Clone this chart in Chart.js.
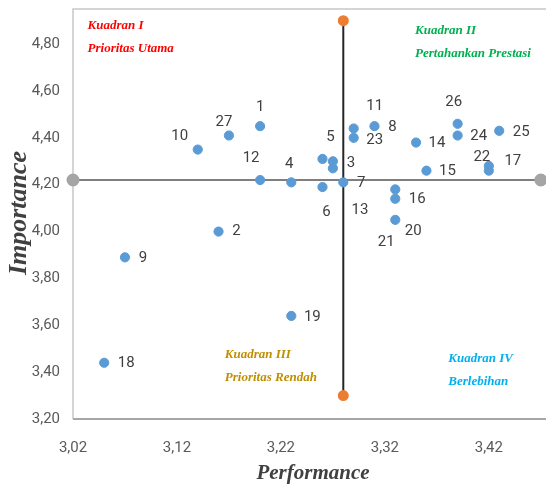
<!DOCTYPE html>
<html>
<head>
<meta charset="utf-8">
<script src="https://cdn.jsdelivr.net/npm/chart.js@4.4.1/dist/chart.umd.min.js"></script>
<style>
  html, body { margin: 0; padding: 0; background: #fff; }
  #wrap { width: 546px; height: 487px; position: relative; }
</style>
</head>
<body>
<div id="wrap"><canvas id="ipaChart"></canvas></div>
<script>
// ---- data (item no., performance = x, importance = y)
const itemNumbers = [1, 2, 3, 4, 5, 6, 7, 8, 9, 10, 11, 12, 13, 14, 15, 16, 17, 18, 19, 20, 21, 22, 23, 24, 25, 26, 27];
const performance = [3.20, 3.16, 3.27, 3.23, 3.26, 3.26, 3.28, 3.31, 3.07, 3.14, 3.29, 3.20, 3.27, 3.35,
                     3.36, 3.33, 3.42, 3.05, 3.23, 3.33, 3.33, 3.42, 3.29, 3.39, 3.43, 3.39, 3.17];
const importance  = [4.45, 4.00, 4.30, 4.21, 4.31, 4.19, 4.21, 4.45, 3.89, 4.35, 4.44, 4.22, 4.27, 4.38,
                     4.26, 4.14, 4.26, 3.44, 3.64, 4.18, 4.05, 4.28, 4.40, 4.41, 4.43, 4.46, 4.41];

// mean lines (performance / importance)
const meanPerformance = 3.28;
const meanImportance = 4.22;
const meanPerfSpan = [3.30, 4.90];   // importance range covered by vertical line
const meanImpSpan = [3.02, 3.47];    // performance range covered by horizontal line

const xTicks = [3.02, 3.12, 3.22, 3.32, 3.42];
const yTicks = [3.20, 3.40, 3.60, 3.80, 4.00, 4.20, 4.40, 4.60, 4.80];

const quadrantTitles = ["Kuadran I", "Kuadran II", "Kuadran III", "Kuadran IV"];
const quadrantNames = ["Prioritas Utama", "Pertahankan Prestasi", "Prioritas Rendah", "Berlebihan"];

// ---- styling
const quadrantStyle = [
  { color: "#FF0000", x: 3.034, y: 4.879 },
  { color: "#00B050", x: 3.349, y: 4.858 },
  { color: "#BF8F00", x: 3.166, y: 3.474 },
  { color: "#00B0F0", x: 3.381, y: 3.456 },
];

// label offsets (px) from each point, like manually dragged Excel labels
const labelOffset = {
  1: [0, -19], 2: [18, 0], 3: [18, 2], 4: [-2, -18], 5: [8, -22], 6: [4, 25], 7: [18, 1],
  8: [18, 1], 9: [18, 1], 10: [-18, -13], 11: [21, -22], 12: [-9, -22], 13: [27, 42],
  14: [21, 1], 15: [21, 1], 16: [22, 0], 17: [24, -9], 18: [22, 0], 19: [21, 1],
  20: [18, 42], 21: [-9, 22], 22: [-7, -9], 23: [21, 2], 24: [21, 1], 25: [22, 1],
  26: [-4, -22], 27: [-5, -13],
};

const tickFont = "'Liberation Sans Narrow', Roboto, sans-serif";
const fmt = v => v.toFixed(2).replace(".", ",");

const points = itemNumbers.map((n, i) => ({ x: performance[i], y: importance[i] }));

/**
 * Plot border, data labels, quadrant notes and axis titles
 */
const ipaDecor = {
  id: "ipaDecor",
  beforeDatasetsDraw(chart) {
    const { ctx, chartArea: a } = chart;
    ctx.save();
    ctx.strokeStyle = "#C8C8C8";
    ctx.lineWidth = 1.5;
    ctx.beginPath();
    ctx.moveTo(a.left, a.bottom);
    ctx.lineTo(a.left, a.top);
    ctx.lineTo(a.right, a.top);
    ctx.stroke();
    ctx.strokeStyle = "#A6A6A6";
    ctx.lineWidth = 2;
    ctx.beginPath();
    ctx.moveTo(a.left, a.bottom);
    ctx.lineTo(a.right, a.bottom);
    ctx.stroke();
    ctx.restore();
  },
  afterDatasetsDraw(chart) {
    const { ctx, scales: { x, y } } = chart;
    ctx.save();

    // point labels
    ctx.font = "15px " + tickFont;
    ctx.fillStyle = "#404040";
    ctx.textAlign = "center";
    ctx.textBaseline = "middle";
    itemNumbers.forEach((n, i) => {
      const [dx, dy] = labelOffset[n];
      ctx.fillText(String(n), x.getPixelForValue(performance[i]) + dx, y.getPixelForValue(importance[i]) + dy);
    });

    // quadrant notes
    ctx.font = "italic bold 13px 'Liberation Serif', serif";
    ctx.textAlign = "left";
    quadrantTitles.forEach((t, i) => {
      const s = quadrantStyle[i];
      const px = x.getPixelForValue(s.x);
      const py = y.getPixelForValue(s.y);
      ctx.fillStyle = s.color;
      ctx.fillText(t, px, py);
      ctx.fillText(quadrantNames[i], px, py + 23);
    });

    // axis titles
    ctx.fillStyle = "#404040";
    ctx.textAlign = "center";
    ctx.font = "italic bold 21px 'Liberation Serif', serif";
    ctx.fillText("Performance", 313, 474);
    ctx.translate(19, 213);
    ctx.rotate(-Math.PI / 2);
    ctx.font = "italic bold 26px 'Liberation Serif', serif";
    ctx.fillText("Importance", 0, 0);
    ctx.restore();
  },
};

const ctx = document.getElementById("ipaChart").getContext("2d");
new Chart(ctx, {
  type: "scatter",
  data: {
    datasets: [
      {
        label: "Atribut",
        data: points,
        backgroundColor: "#5B9BD5",
        borderColor: "#5B9BD5",
        pointRadius: 4.6,
        pointHoverRadius: 4.6,
      },
      {
        label: "Rata-rata Performance",
        data: [{ x: meanPerformance, y: meanPerfSpan[0] }, { x: meanPerformance, y: meanPerfSpan[1] }],
        showLine: true,
        borderColor: "#262626",
        borderWidth: 2,
        backgroundColor: "#ED7D31",
        pointBorderColor: "#ED7D31",
        pointRadius: 4.5,
        clip: false,
      },
      {
        label: "Rata-rata Importance",
        data: [{ x: meanImpSpan[0], y: meanImportance }, { x: meanImpSpan[1], y: meanImportance }],
        showLine: true,
        borderColor: "#7F7F7F",
        borderWidth: 2,
        backgroundColor: "#A5A5A5",
        pointBorderColor: "#A5A5A5",
        pointRadius: 5.5,
        clip: false,
      },
    ],
  },
  options: {
    responsive: true,
    maintainAspectRatio: false,
    animation: false,
    layout: { autoPadding: false, padding: { top: 9, right: 0, left: 0, bottom: 0 } },
    plugins: {
      legend: { display: false },
      tooltip: { enabled: false },
    },
    scales: {
      x: {
        type: "linear",
        min: 3.02,
        max: 3.475,
        grid: { display: false, drawTicks: false },
        border: { display: false },
        afterBuildTicks: s => { s.ticks = xTicks.map(v => ({ value: v })); },
        afterFit: s => { s.height = 68; s.paddingLeft = 0; s.paddingRight = 0; },
        ticks: {
          padding: 20,
          color: "#595959",
          font: { family: tickFont, size: 15 },
          callback: v => fmt(v),
        },
      },
      y: {
        type: "linear",
        min: 3.2,
        max: 4.95,
        grid: { display: false, drawTicks: false },
        border: { display: false },
        afterBuildTicks: s => { s.ticks = yTicks.map(v => ({ value: v })); },
        afterFit: s => { s.width = 73; s.paddingTop = 0; s.paddingBottom = 0; },
        ticks: {
          padding: 13,
          color: "#595959",
          font: { family: tickFont, size: 15 },
          callback: v => fmt(v),
        },
      },
    },
  },
  plugins: [ipaDecor],
});
</script>
</body>
</html>
